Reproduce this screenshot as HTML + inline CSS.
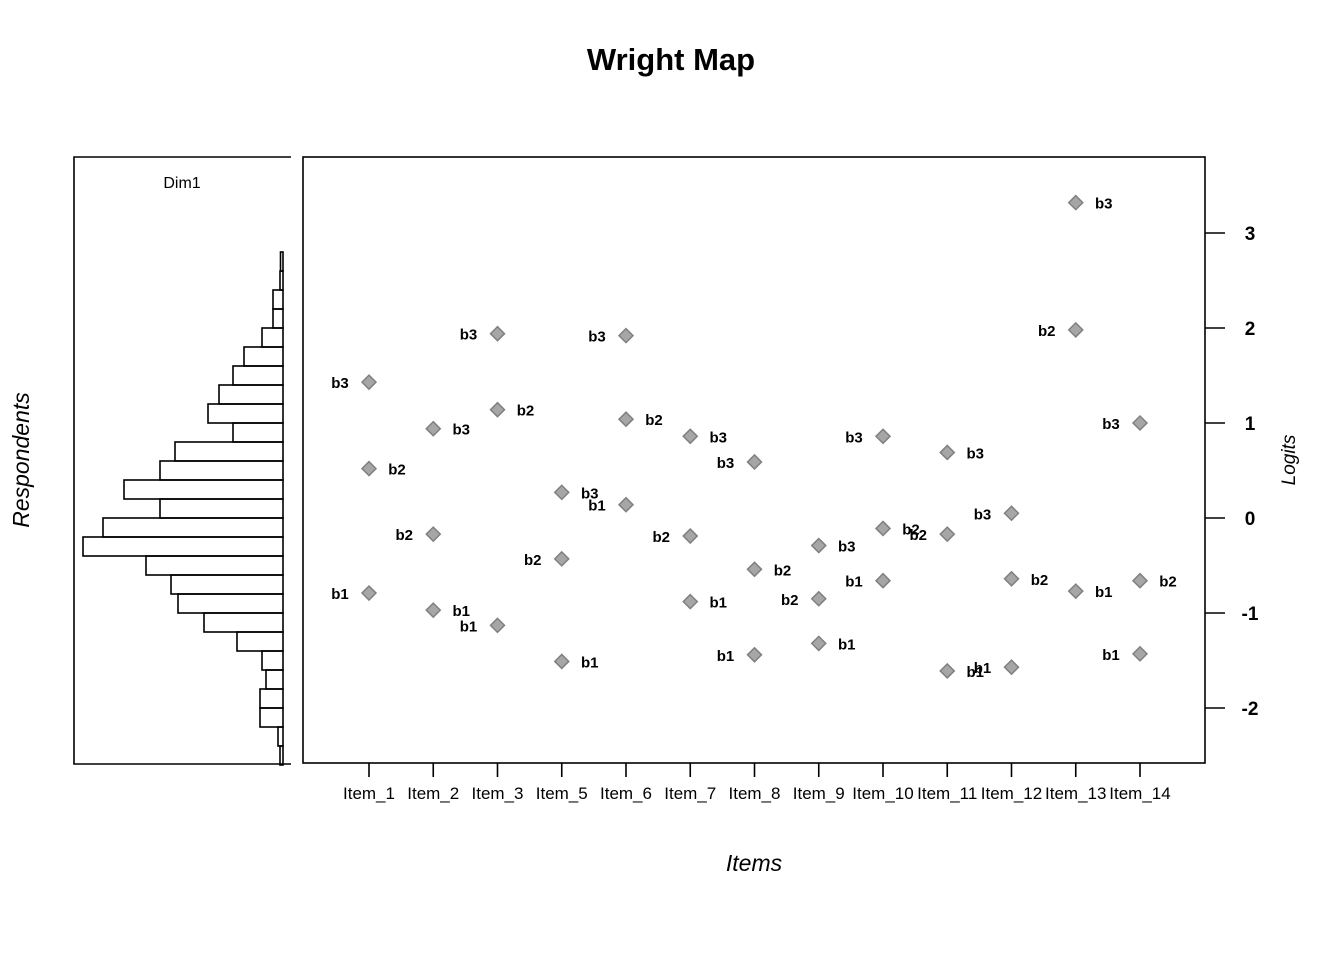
<!DOCTYPE html>
<html><head><meta charset="utf-8"><style>
html,body{margin:0;padding:0;background:#fff;}
svg{display:block;font-family:"Liberation Sans",Arial,sans-serif;}
</style></head><body>
<svg id="chart" width="1344" height="960" viewBox="0 0 1344 960" xmlns="http://www.w3.org/2000/svg">
<text x="671" y="70" text-anchor="middle" font-size="31" font-weight="bold">Wright Map</text>
<path d="M291,157 H74 V764 H291" fill="none" stroke="#000" stroke-width="1.6"/>
<text x="182" y="188" text-anchor="middle" font-size="16">Dim1</text>
<rect x="303" y="157" width="902" height="606" fill="none" stroke="#000" stroke-width="1.6"/>
<text transform="translate(29,460) rotate(-90)" text-anchor="middle" font-size="23" font-style="italic">Respondents</text>
<text transform="translate(1295,460) rotate(-90)" text-anchor="middle" font-size="19" font-style="italic">Logits</text>
<text x="754" y="871" text-anchor="middle" font-size="23" font-style="italic">Items</text>
<g id="hist"></g><g id="yaxis"></g><g id="xaxis"></g><g id="points"></g>
</svg>
<script>
const items = ["Item_1","Item_2","Item_3","Item_5","Item_6","Item_7","Item_8","Item_9","Item_10","Item_11","Item_12","Item_13","Item_14"];
const b1 = [-0.79,-0.97,-1.13,-1.51,0.14,-0.88,-1.44,-1.32,-0.66,-1.61,-1.57,-0.77,-1.43];
const b2 = [0.52,-0.17,1.14,-0.43,1.04,-0.19,-0.54,-0.85,-0.11,-0.17,-0.64,1.98,-0.66];
const b3 = [1.43,0.94,1.94,0.27,1.92,0.86,0.59,-0.29,0.86,0.69,0.05,3.32,1.0];
const yTicks = [3,2,1,0,-1,-2];
const binStarts = [2.6,2.4,2.2,2.0,1.8,1.6,1.4,1.2,1.0,0.8,0.6,0.4,0.2,0.0,-0.2,-0.4,-0.6,-0.8,-1.0,-1.2,-1.4,-1.6,-1.8,-2.0,-2.2,-2.4,-2.6];
const binCounts = [1,1.2,4,4,8.4,15.6,20,25.6,30,20,43.2,49.2,63.6,49.2,72,80,54.8,44.8,42,31.6,18.4,8.4,6.8,9.2,9.2,2,1.2];
const NS="http://www.w3.org/2000/svg";
function y(v){return 518-95*v;}
function x(i){return 369+i*64.25;}
function hx(c){return 283-c*2.5;}
function mk(tag,attrs,parent){const e=document.createElementNS(NS,tag);for(const k in attrs)e.setAttribute(k,attrs[k]);parent.appendChild(e);return e;}
const hist=document.getElementById('hist');
binStarts.forEach((s,i)=>{
  const top=y(s+0.2), bot=y(s);
  const r=mk('rect',{x:hx(binCounts[i]),y:top,width:283-hx(binCounts[i]),height:bot-top,fill:'none',stroke:'#000','stroke-width':1.6},hist);
  
  
});
const ya=document.getElementById('yaxis');
yTicks.forEach(t=>{
  const l=mk('line',{x1:1205,x2:1225,y1:y(t),y2:y(t),stroke:'#000','stroke-width':1.6},ya);
  
  
  const tx=mk('text',{x:1250,y:y(t)+7,'text-anchor':'middle','font-size':19,'font-weight':'bold'},ya);
  tx.textContent=String(t);
  
  
});
const xa=document.getElementById('xaxis');
items.forEach((it,i)=>{
  const l=mk('line',{x1:x(i),x2:x(i),y1:763,y2:777,stroke:'#000','stroke-width':1.6},xa);
  
  
  const tx=mk('text',{x:x(i),y:799,'text-anchor':'middle','font-size':17},xa);
  tx.textContent=it;
  
  
});
const pg=document.getElementById('points');
const series=[["b3",b3],["b2",b2],["b1",b1]];
items.forEach((it,i)=>{
  series.forEach(([name,arr],t)=>{
    const cx=x(i), cy=y(arr[i]);
    const d=mk('polygon',{points:`${cx},${cy-7} ${cx+7},${cy} ${cx},${cy+7} ${cx-7},${cy}`,fill:'#a6a6a6',stroke:'#808080','stroke-width':1.5},pg);
    
    
    const left=((i*3+t)%2)===0;
    const tx=mk('text',{x:left?cx-29:cx+28,y:cy+6,'text-anchor':'middle','font-size':15,'font-weight':'bold'},pg);
    tx.textContent=name;
    
    
  });
});
</script>
</body></html>
